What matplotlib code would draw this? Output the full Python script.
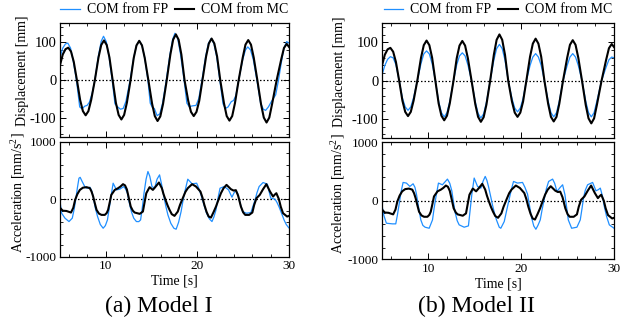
"""
COM displacement / acceleration: force plate vs motion capture, two models.
Writes out.png (635x327).
"""
import matplotlib
matplotlib.use('Agg')
import matplotlib.pyplot as plt
import matplotlib.ticker as ticker

plt.rcParams['font.family'] = ['Liberation Serif', 'DejaVu Serif']
plt.rcParams['mathtext.fontset'] = 'custom'
plt.rcParams['mathtext.rm'] = 'Liberation Serif'
plt.rcParams['axes.unicode_minus'] = False

BLUE = '#1f8fff'
BLACK = '#000000'

x_ticks = [10, 20, 30]
disp_ticks = [-100, 0, 100]
acc_ticks = [-1000, 0, 1000]
legend_labels = ['COM from FP', 'COM from MC']
captions = ['(a) Model I', '(b) Model II']

# ── displacement [mm] ─────────────────────────────────────────────────────────
t_disp_mc = [5.0, 5.3, 5.6, 5.9, 6.2, 6.5, 6.85,
             7.2, 7.5, 7.8, 8.1, 8.4, 8.8,
             9.2, 9.5, 9.8, 10.1, 10.4, 10.75,
             11.1, 11.4, 11.7, 12.0, 12.3, 12.7,
             13.05, 13.35, 13.65, 13.95, 14.25, 14.65,
             15.05, 15.35, 15.65, 15.95, 16.25, 16.65,
             17.05, 17.35, 17.65, 17.95, 18.25, 18.6,
             19.0, 19.3, 19.6, 19.9, 20.2, 20.55,
             20.95, 21.25, 21.55, 21.85, 22.15, 22.5,
             22.9, 23.2, 23.5, 23.8, 24.1, 24.5,
             24.95, 25.25, 25.55, 25.85, 26.15, 26.55,
             26.95, 27.25, 27.55, 27.85, 28.15, 28.65,
             29.15, 29.45, 29.75, 30.0]
disp_mc = [40, 68, 82, 86, 76, 49, 0,
           -52, -81, -92, -81, -52, 0,
           60, 93, 105, 93, 60, 0,
           -59, -91, -103, -91, -59, 0,
           59, 92, 104, 92, 59, 0,
           -61, -94, -107, -95, -62, 0,
           68, 107, 121, 107, 68, 0,
           -54, -83, -94, -83, -54, 0,
           63, 97, 110, 97, 63, 0,
           -60, -94, -106, -94, -60, 0,
           60, 94, 106, 94, 60, 0,
           -63, -98, -111, -98, -63, 0,
           55, 85, 96, 88]
# Model II force-plate COM, sampled at the same times as the MC trace
disp_fp2 = [15, 40, 56, 63, 60, 42, 0,
            -45, -68, -77, -68, -44, 0,
            45, 70, 78, 70, 45, 0,
            -54, -83, -94, -83, -54, 0,
            42, 65, 73, 65, 42, 0,
            -55, -85, -97, -86, -56, 0,
            54, 84, 95, 84, 54, 0,
            -46, -71, -81, -71, -46, 0,
            40, 62, 71, 62, 40, 0,
            -53, -83, -94, -83, -53, 0,
            40, 62, 71, 62, 40, 0,
            -53, -83, -94, -83, -53, 0,
            36, 55, 62, 60]
t_disp_fp1 = [5.0, 5.3, 5.6, 5.85, 6.15, 6.45, 6.8,
              7.15, 7.4, 7.7, 7.95, 8.2, 8.5, 8.8,
              9.2, 9.5, 9.75, 10.05, 10.35, 10.7,
              11.0, 11.3, 11.6, 11.9, 12.2, 12.65,
              13.05, 13.35, 13.65, 13.95, 14.25, 14.6,
              14.85, 15.1, 15.3, 15.6, 15.9, 16.2, 16.6,
              17.0, 17.3, 17.55, 17.85, 18.15, 18.55,
              18.85, 19.1, 19.5, 19.85, 20.15, 20.5,
              20.9, 21.2, 21.5, 21.8, 22.1, 22.45,
              22.8, 23.05, 23.35, 23.7, 23.95, 24.2, 24.5,
              24.95, 25.25, 25.5, 25.8, 26.1, 26.5,
              26.9, 27.2, 27.45, 27.75, 28.1, 28.55, 28.85,
              29.15, 29.45, 29.75, 30.0]
disp_fp1 = [60, 85, 96, 98, 85, 50, 0,
            -70, -75, -68, -66, -58, -35, 0,
            65, 103, 116, 102, 63, 0,
            -62, -70, -76, -74, -55, 0,
            60, 92, 104, 92, 59, 0,
            -60, -72, -74, -93, -88, -60, 0,
            68, 108, 124, 110, 70, 0,
            -60, -69, -67, -66, -48, 0,
            63, 97, 110, 97, 63, 0,
            -62, -74, -70, -56, -53, -40, 0,
            55, 80, 88, 80, 55, 0,
            -60, -76, -79, -70, -55, -38, 0,
            45, 85, 102, 98]

# ── acceleration [mm/s^2] ────────────────────────────────────────────────────
t_acc_mc = [5.0, 5.3, 5.7, 6.2, 6.45, 6.65, 6.9, 7.17, 7.5, 7.9,
            8.26, 8.45, 8.62, 8.8, 8.99, 9.25, 9.53, 9.89, 10.1, 10.25,
            10.45, 10.6, 10.98, 11.34, 11.6, 11.88, 12.1, 12.3, 12.5, 12.72,
            12.95, 13.15, 13.7, 14.05, 14.25, 14.42, 14.78, 15.14, 15.5, 15.8,
            16.12, 16.3, 16.52, 16.75, 16.96, 17.2, 17.5, 17.86, 18.1, 18.4,
            18.7, 18.95, 19.42, 19.85, 20.33, 20.55, 20.76, 21.0, 21.23, 21.48,
            21.75, 22.03, 22.3, 22.57, 22.85, 23.18, 23.66, 23.95, 24.2, 24.45,
            24.75, 25.0, 25.22, 25.65, 26.0, 26.2, 26.45, 26.81, 27.17, 27.53,
            27.93, 28.26, 28.45, 28.62, 28.9, 29.1, 29.35, 29.8, 30.0]
acc_mc = [-150, -200, -205, -232, -150, -12, 90, 162, 200, 209,
          191, 130, 46, -70, -186, -250, -273, -273, -240, -186,
          -40, 75, 162, 191, 220, 261, 240, 170, 30, -128,
          -200, -232, -255, -215, -40, 104, 209, 162, 230, 290,
          191, 90, -12, -110, -186, -260, -290, -215, -100, 17,
          130, 191, 261, 220, 133, 30, -99, -220, -302, -320,
          -230, -128, -10, 104, 190, 249, 174, 150, 157, 60,
          -128, -230, -273, -273, -232, -100, 17, 75, 174, 261,
          133, 46, 80, 104, 0, -130, -244, -302, -290]
t_acc_fp1 = [5.0, 5.18, 5.54, 5.98, 6.34, 6.55, 6.71, 6.9, 7.07, 7.2,
             7.42, 7.7, 7.9, 8.26, 8.45, 8.62, 8.85, 9.1, 9.4, 9.71,
             9.95, 10.18, 10.54, 10.8, 11.16, 11.52, 11.96, 12.15, 12.36, 12.55,
             12.79, 13.05, 13.34, 13.6, 13.8, 14.0, 14.17, 14.4, 14.6, 14.8,
             15.04, 15.33, 15.6, 15.87, 16.1, 16.34, 16.55, 16.78, 17.1, 17.43,
             17.68, 17.95, 18.22, 18.4, 18.59, 18.95, 19.42, 19.92, 20.15, 20.4,
             20.7, 21.0, 21.3, 21.59, 21.8, 22.03, 22.25, 22.47, 22.94, 23.4,
             23.77, 24.0, 24.2, 24.4, 24.65, 24.93, 25.36, 25.84, 26.05, 26.3,
             26.5, 26.74, 27.17, 27.64, 27.85, 28.01, 28.48, 28.7, 28.9, 29.2,
             29.46, 29.7, 29.93, 30.0]
acc_fp1 = [-40, -244, -330, -389, -330, -170, -12, 200, 365, 380,
           307, 220, 191, 209, 150, 46, -150, -302, -440, -505,
           -460, -360, 17, 278, 162, 174, 220, 180, 104, -50,
           -215, -330, -389, -390, -360, -130, 104, 350, 481, 400,
           220, 191, 350, 423, 250, 46, -120, -273, -420, -505,
           -522, -400, -215, -50, 104, 348, 267, 278, 190, 75,
           -90, -244, -340, -389, -310, -186, 20, 191, 220, 162,
           35, 110, 151, 100, -60, -215, -244, -232, -130, -12,
           110, 220, 290, 261, 120, 17, 0, -60, -128, -250,
           -360, -440, -488, -500]
t_acc_fp2 = [5.0, 5.2, 5.47, 6.12, 6.48, 6.65, 6.84, 7.05, 7.27, 7.63,
             8.0, 8.35, 8.55, 8.71, 8.95, 9.18, 9.4, 9.64, 10.08, 10.44,
             10.62, 10.8, 11.08, 11.51, 12.05, 12.3, 12.52, 12.7, 12.88, 13.1,
             13.31, 13.85, 14.31, 14.5, 14.68, 14.93, 15.29, 15.65, 15.9, 16.12,
             16.3, 16.47, 16.7, 16.9, 17.1, 17.33, 17.63, 17.8, 18.17, 18.45,
             18.7, 18.95, 19.17, 19.6, 20.14, 20.4, 20.68, 20.9, 21.11, 21.35,
             21.58, 21.8, 22.05, 22.25, 22.48, 22.7, 22.95, 23.38, 23.6, 23.85,
             24.2, 24.46, 24.71, 24.9, 25.07, 25.43, 26.0, 26.36, 26.55, 26.72,
             26.9, 27.15, 27.69, 28.05, 28.3, 28.52, 28.75, 28.95, 29.2, 29.49,
             30.0]
acc_fp2 = [-80, -250, -383, -394, -394, -250, -63, 150, 314, 303,
           246, 291, 230, 114, -120, -326, -420, -451, -469, -326,
           -120, 57, 303, 274, 371, 300, 171, -20, -200, -340,
           -411, -451, -429, -150, 114, 389, 246, 217, 340, 417,
           350, 246, 80, -69, -200, -326, -451, -469, -354, -150,
           29, 200, 331, 303, 314, 230, 114, -90, -286, -430,
           -486, -420, -326, -150, 29, 200, 331, 371, 300, 160,
           230, 274, 103, -120, -326, -469, -451, -326, -130, 57,
           180, 274, 314, 171, 190, 217, 80, -97, -270, -411,
           -469]


def style(ax, ylim, yticks, yminor, xlabels, ylabelsize):
    ax.set_xlim(5, 30)
    ax.set_ylim(*ylim)
    ax.xaxis.set_major_locator(ticker.FixedLocator(x_ticks))
    ax.xaxis.set_minor_locator(ticker.MultipleLocator(2))
    ax.yaxis.set_major_locator(ticker.FixedLocator(yticks))
    ax.yaxis.set_minor_locator(ticker.MultipleLocator(yminor))
    ax.tick_params(which='both', direction='in', top=True, right=True,
                   pad=2.5, labelbottom=xlabels)
    ax.tick_params(axis='x', labelsize=9.5)
    ax.tick_params(axis='y', labelsize=ylabelsize)
    ax.tick_params(which='major', length=4, width=0.7)
    ax.tick_params(which='minor', length=2, width=0.6)
    for sp in ax.spines.values():
        sp.set_linewidth(0.9)
    ax.axhline(0, color='k', lw=0.9, ls=(0, (1.2, 1.6)), zorder=1)


fig = plt.figure(figsize=(6.35, 3.27), dpi=100)

panels = [
    # (top rect, bottom rect, fp disp (t, v), fp acc (t, v), caption x, label x)
    ([0.0945, 0.580, 0.3606, 0.3486], [0.0945, 0.215, 0.3606, 0.3517],
     (t_disp_fp1, disp_fp1), (t_acc_fp1, acc_fp1), 0.25, (-0.135, -0.144)),
    ([0.6016, 0.577, 0.3654, 0.3517], [0.6016, 0.207, 0.3654, 0.3578],
     (t_disp_mc, disp_fp2), (t_acc_fp2, acc_fp2), 0.75, (-0.155, -0.15)),
]

for i, (r_top, r_bot, fp_d, fp_a, cx, lx) in enumerate(panels):
    ax1 = fig.add_axes(r_top)
    ax2 = fig.add_axes(r_bot)

    l_fp, = ax1.plot(*fp_d, color=BLUE, lw=0.9, zorder=2)
    l_mc, = ax1.plot(t_disp_mc, disp_mc, color=BLACK, lw=1.5, zorder=3)
    ax2.plot(*fp_a, color=BLUE, lw=0.9, zorder=2)
    ax2.plot(t_acc_mc, acc_mc, color=BLACK, lw=1.5, zorder=3)

    style(ax1, (-150, 150), disp_ticks, 20, False, 10.5)
    style(ax2, (-1000, 1000), acc_ticks, 200, True, 9.5)

    ax1.set_ylabel('Displacement [mm]', fontsize=10)
    ax1.yaxis.set_label_coords(lx[0], 0.58)
    ax2.set_ylabel('Acceleration [mm/s$^2$]', fontsize=10)
    ax2.yaxis.set_label_coords(lx[1], 0.56)
    ax2.set_xlabel('Time [s]', fontsize=10, labelpad=2)

    ax1.legend([l_fp, l_mc], legend_labels, loc='lower center',
               bbox_to_anchor=(0.5, 1.0), ncol=2, frameon=False, fontsize=10,
               handlelength=1.4, handletextpad=0.5, columnspacing=0.5,
               borderaxespad=0.1, borderpad=0.4)

    fig.text(cx, 0.064, captions[i], ha='center', va='center', fontsize=17)

fig.savefig('out.png', dpi=100)
